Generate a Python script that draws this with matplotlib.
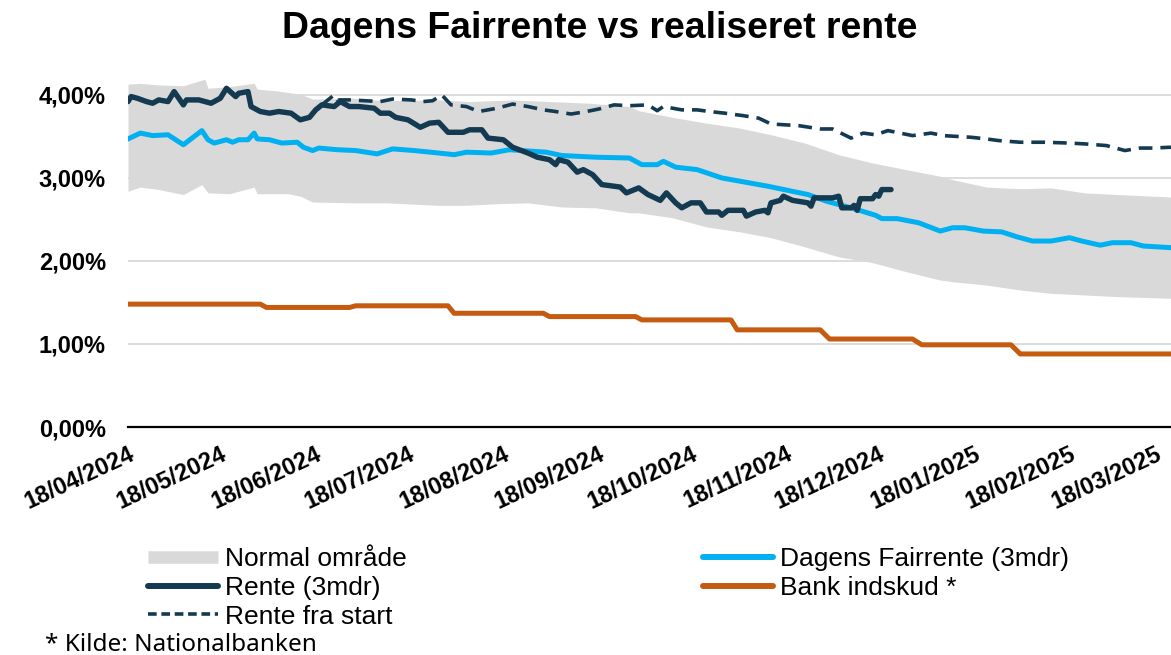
import numpy as np
import matplotlib
matplotlib.use("Agg")
import matplotlib.pyplot as plt
import matplotlib.dates as mdates
from matplotlib.lines import Line2D
from matplotlib.ticker import FuncFormatter

plt.rcParams['font.family'] = ['Liberation Sans', 'DejaVu Sans']

# all x values are days after 18/04/2024
start = np.datetime64('2024-04-18')

# Normal område (band)
band_hi_days = [0, 4, 10, 18, 25, 26, 33, 41, 42, 48, 56, 60, 73, 84, 101, 111, 125, 137, 150, 163,
                166, 177, 188, 199, 209, 220, 231, 242, 253, 264, 268, 279, 290, 300, 311, 322, 339]
band_hi = [4.13, 4.14, 4.12, 4.11, 4.19, 4.08, 4.10, 4.14, 4.07, 4.05, 4.01, 3.95, 3.96, 3.93, 3.94, 3.92,
           3.94, 3.92, 3.90, 3.86, 3.81, 3.73, 3.66, 3.60, 3.52, 3.42, 3.28, 3.18, 3.10, 3.02, 2.98, 2.89,
           2.87, 2.88, 2.82, 2.80, 2.77]
band_lo_days = [0, 4, 10, 18, 24, 26, 33, 41, 42, 52, 56, 60, 73, 84, 101, 109, 120, 130, 141, 152,
                163, 166, 177, 188, 199, 209, 220, 231, 242, 253, 264, 268, 279, 290, 300, 311, 322, 339]
band_lo = [2.84, 2.89, 2.86, 2.80, 2.92, 2.82, 2.81, 2.89, 2.81, 2.81, 2.78, 2.71, 2.70, 2.70, 2.67, 2.67,
           2.69, 2.70, 2.65, 2.64, 2.58, 2.58, 2.52, 2.41, 2.35, 2.28, 2.17, 2.05, 1.98, 1.87, 1.77, 1.75,
           1.71, 1.65, 1.61, 1.59, 1.57, 1.55]

# Rente (3mdr)
rente_days = [0, 1, 3, 6, 8, 10, 13, 15, 18, 19, 23, 27, 30, 32, 35, 36, 39, 40, 43, 46, 49, 53, 56, 59,
              61, 63, 67, 69, 72, 75, 80, 82, 85, 87, 91, 95, 98, 101, 104, 109, 111, 115, 117, 122, 125,
              130, 133, 137, 139, 140, 143, 146, 148, 151, 154, 160, 162, 166, 169, 173, 175, 178, 180,
              183, 186, 188, 192, 193, 195, 200, 201, 204, 207, 208, 209, 212, 213, 216, 221, 222, 223,
              229, 231, 232, 235, 236, 237, 238, 242, 243, 244, 245, 248]
rente = [3.92, 3.98, 3.96, 3.92, 3.90, 3.94, 3.92, 4.04, 3.88, 3.94, 3.94, 3.90, 3.96, 4.08, 3.98, 4.02,
         4.04, 3.86, 3.80, 3.78, 3.80, 3.78, 3.70, 3.73, 3.82, 3.88, 3.86, 3.92, 3.86, 3.86, 3.84, 3.78,
         3.78, 3.73, 3.70, 3.61, 3.66, 3.67, 3.55, 3.55, 3.58, 3.58, 3.48, 3.46, 3.37, 3.30, 3.25, 3.22,
         3.16, 3.22, 3.19, 3.07, 3.10, 3.04, 2.92, 2.89, 2.82, 2.88, 2.80, 2.73, 2.82, 2.70, 2.64, 2.70,
         2.70, 2.59, 2.59, 2.55, 2.61, 2.61, 2.54, 2.59, 2.61, 2.58, 2.70, 2.73, 2.78, 2.73, 2.70, 2.66,
         2.76, 2.76, 2.78, 2.64, 2.64, 2.67, 2.61, 2.75, 2.75, 2.80, 2.78, 2.86, 2.86]

# Rente fra start
fra_start_days = [63, 67, 68, 72, 82, 86, 92, 96, 99, 102, 105, 110, 114, 120, 125, 130, 135, 139, 144,
                  149, 153, 158, 163, 169, 172, 174, 180, 185, 189, 194, 200, 205, 209, 218, 225, 229,
                  235, 239, 243, 247, 255, 261, 265, 274, 279, 283, 290, 298, 306, 311, 318, 324, 329,
                  333, 339]
fra_start = [3.88, 4.00, 3.94, 3.94, 3.92, 3.95, 3.94, 3.92, 3.93, 4.00, 3.88, 3.86, 3.80, 3.84, 3.89,
             3.86, 3.82, 3.80, 3.77, 3.80, 3.83, 3.88, 3.87, 3.88, 3.81, 3.86, 3.82, 3.82, 3.80, 3.78,
             3.75, 3.72, 3.65, 3.63, 3.59, 3.59, 3.48, 3.54, 3.52, 3.57, 3.51, 3.54, 3.51, 3.49, 3.47,
             3.45, 3.43, 3.43, 3.42, 3.41, 3.39, 3.33, 3.36, 3.36, 3.37]

# Dagens Fairrente (3mdr)
fair_days = [0, 4, 8, 13, 18, 24, 26, 28, 32, 34, 36, 39, 41, 42, 46, 50, 55, 57, 60, 62, 68, 74, 81, 86,
             93, 101, 106, 110, 118, 124, 136, 141, 152, 163, 167, 172, 174, 178, 185, 193, 202, 208,
             221, 227, 235, 243, 245, 250, 257, 264, 268, 272, 278, 284, 289, 294, 300, 306, 310, 316,
             320, 326, 330, 339]
fair = [3.47, 3.54, 3.51, 3.52, 3.40, 3.57, 3.46, 3.42, 3.46, 3.43, 3.46, 3.46, 3.54, 3.47, 3.46, 3.42,
        3.43, 3.37, 3.33, 3.36, 3.34, 3.33, 3.29, 3.35, 3.33, 3.30, 3.28, 3.31, 3.30, 3.34, 3.31, 3.27,
        3.25, 3.24, 3.16, 3.16, 3.20, 3.13, 3.10, 3.00, 2.94, 2.90, 2.80, 2.72, 2.64, 2.55, 2.51, 2.51,
        2.46, 2.36, 2.40, 2.40, 2.36, 2.35, 2.29, 2.24, 2.24, 2.28, 2.24, 2.19, 2.22, 2.22, 2.18, 2.16]

# Bank indskud *
bank_days = [0, 43, 45, 72, 74, 104, 106, 135, 137, 165, 167, 196, 198, 225, 228, 255, 258, 287, 290, 339]
bank = [1.48, 1.48, 1.44, 1.44, 1.46, 1.46, 1.37, 1.37, 1.33, 1.33, 1.29, 1.29, 1.17, 1.17, 1.06, 1.06,
        0.99, 0.99, 0.88, 0.88]

y_ticks = [0, 1, 2, 3, 4]


def to_dates(days):
    return start + np.array(days).astype('timedelta64[D]')


navy = '#133a50'
blue = '#00b0f0'
orange = '#c55a11'
grey = '#d9d9d9'

fig = plt.figure(figsize=(11.71, 6.55), dpi=100)
ax = fig.add_axes([128 / 1171, 1 - 427 / 655, 1 - 128 / 1171, (427 - 75) / 655])

for t in y_ticks[1:]:
    ax.axhline(t, color=grey, lw=1.3, zorder=1)

# band: put both edges on a common day grid
grid_days = sorted(set(band_hi_days) | set(band_lo_days))
hi = np.interp(grid_days, band_hi_days, band_hi)
lo = np.interp(grid_days, band_lo_days, band_lo)
ax.fill_between(to_dates(grid_days), lo, hi, color=grey, lw=0, zorder=2)

ax.plot(to_dates(bank_days), bank, color=orange, lw=3.6, zorder=3, solid_joinstyle='round')
ax.plot(to_dates(fair_days), fair, color=blue, lw=3.6, zorder=4, solid_joinstyle='round')
ax.plot(to_dates(fra_start_days), fra_start, color=navy, lw=2.6, ls=(0, (3.8, 2.2)), zorder=5)
ax.plot(to_dates(rente_days), rente, color=navy, lw=3.9, zorder=6, solid_joinstyle='round',
        solid_capstyle='round')

ax.set_xlim(start, start + np.timedelta64(339, 'D'))
ax.set_ylim(0, 4.24)
ax.set_yticks(y_ticks)
ax.yaxis.set_major_formatter(FuncFormatter(lambda v, p: f"{v:.2f}%".replace('.', ',')))
ax.xaxis.set_major_locator(mdates.MonthLocator(bymonthday=18))
ax.xaxis.set_major_formatter(mdates.DateFormatter('%d/%m/%Y'))

for s in ['top', 'right', 'left']:
    ax.spines[s].set_visible(False)
ax.spines['bottom'].set_color('black')
ax.spines['bottom'].set_linewidth(1.6)
ax.spines['bottom'].set_zorder(7)

ax.tick_params(axis='y', length=0, pad=16, labelsize=17)
ax.tick_params(axis='x', length=0, pad=11, labelsize=17)
for lab in ax.get_yticklabels():
    lab.set_fontweight('bold')
for lab in ax.get_xticklabels():
    lab.set_fontweight('bold')
    lab.set_rotation(25)
    lab.set_ha('right')
    lab.set_va('top')
    lab.set_rotation_mode('anchor')

fig.text(0.512, 0.957, 'Dagens Fairrente vs realiseret rente', ha='center', va='center',
         fontsize=26.9, fontweight='bold')

handles = [
    Line2D([], [], color=grey, lw=9, solid_capstyle='butt'),
    Line2D([], [], color=navy, lw=4.3, solid_capstyle='round'),
    Line2D([], [], color=navy, lw=2.6, ls=(0, (2.4, 1.3))),
    Line2D([], [], color=blue, lw=4.3, solid_capstyle='round'),
    Line2D([], [], color=orange, lw=4.3, solid_capstyle='round'),
]
labels = ['Normal område', 'Rente (3mdr)', 'Rente fra start', 'Dagens Fairrente (3mdr)', 'Bank indskud *']
fig.legend(handles, labels, loc='upper left', bbox_to_anchor=(148 / 1171, 1 - 547 / 655), ncol=2,
           frameon=False, fontsize=19, handlelength=2.65, handletextpad=0.28, labelspacing=0.18,
           columnspacing=11.2, borderpad=0, borderaxespad=0)

fig.text(45 / 1171, 1 - 651 / 655, '* Kilde: Nationalbanken', ha='left', va='baseline',
         fontsize=17.5, family=['Noto Sans', 'DejaVu Sans'])

fig.savefig('out.png', dpi=100)
